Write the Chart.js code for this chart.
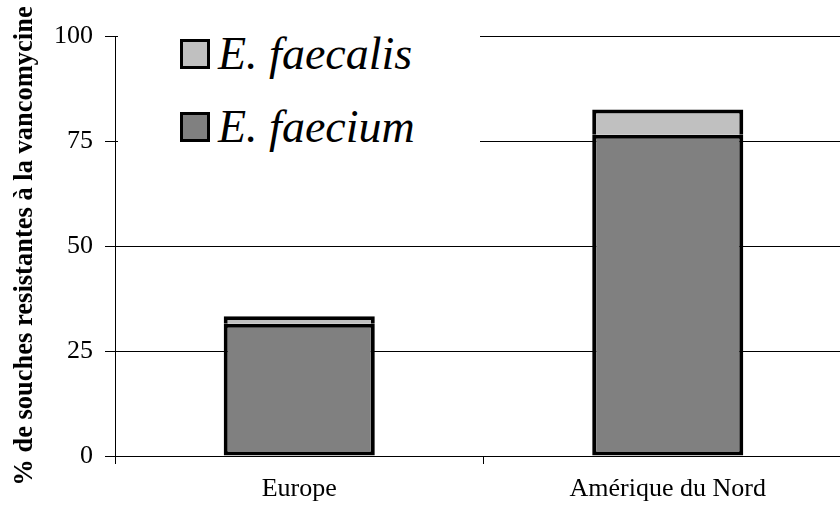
<!DOCTYPE html>
<html lang="fr">
<head>
  <meta charset="UTF-8" />
  <title>Souches résistantes à la vancomycine</title>
  <script src="https://cdn.jsdelivr.net/npm/chart.js"></script>
  <style>
    html, body { margin: 0; padding: 0; background: #fff; overflow: hidden; }
    #wrap { position: relative; width: 840px; height: 508px; overflow: hidden; }
    #legend { position: absolute; left: 118px; top: 22px; width: 362px; height: 136px; background: #fff; }
    .item { position: absolute; left: 62px; display: flex; align-items: center; font-family: "Liberation Serif", serif; font-style: italic; font-size: 46px; color: #000; }
    .box { width: 24px; height: 24px; border: 3px solid #000; margin-right: 8px; }
  </style>
</head>
<body>
<div id="wrap">
  <!-- plot runs a little past the right edge, like the original figure -->
  <canvas id="chart" width="852" height="508"></canvas>
  <div id="legend"></div>
</div>

<script>
  const regions = ['Europe', 'Amérique du Nord'];
  const faecium = [31.5, 76.5];
  const faecalis = [1.8, 6];
  const yTicks = [0, 25, 50, 75, 100];
  const seriesNames = ['E. faecalis', 'E. faecium'];
  const seriesColors = ['#c0c0c0', '#808080'];

  const serif = '"Liberation Serif", "Times New Roman", serif';

  new Chart(document.getElementById('chart'), {
    type: 'bar',
    data: {
      labels: regions,
      datasets: [
        { label: seriesNames[1], data: faecium, backgroundColor: seriesColors[1],
          borderColor: '#000', borderWidth: 4, borderSkipped: false },
        { label: seriesNames[0], data: faecalis, backgroundColor: seriesColors[0],
          borderColor: '#000', borderWidth: 4, borderSkipped: 'start' }
      ]
    },
    options: {
      responsive: false,
      animation: false,
      layout: { padding: { top: 36, right: 0, left: 0, bottom: 0 } },
      plugins: { legend: { display: false }, tooltip: { enabled: false } },
      datasets: { bar: { barPercentage: 0.41, categoryPercentage: 1 } },
      scales: {
        x: {
          stacked: true,
          offset: true,
          border: { color: '#000', width: 1 },
          grid: { offset: true, drawOnChartArea: false, drawTicks: true, tickLength: 8, color: '#000' },
          ticks: { color: '#000', font: { family: serif, size: 26 }, padding: 10 },
          afterFit: s => { s.height = 52; }
        },
        y: {
          stacked: true,
          min: 0, max: 100,
          afterBuildTicks: s => { s.ticks = yTicks.map(v => ({ value: v })); },
          border: { color: '#000', width: 1 },
          grid: { color: '#000', lineWidth: 1, tickLength: 10 },
          ticks: { color: '#000', font: { family: serif, size: 26 }, padding: 12 },
          title: {
            display: true,
            text: '% de souches resistantes à la vancomycine',
            color: '#000',
            font: { family: serif, size: 26.5, weight: 'bold' },
            padding: { top: 9, bottom: 0 }
          },
          afterFit: s => { s.width = 115; }
        }
      }
    }
  });

  const legend = document.getElementById('legend');
  seriesNames.forEach((name, i) => {
    const item = document.createElement('div');
    item.className = 'item';
    item.style.top = (i === 0 ? 5 : 78) + 'px';
    item.innerHTML = '<span class="box" style="background:' + seriesColors[i] + '"></span>' + name;
    legend.appendChild(item);
  });
</script>
</body>
</html>
